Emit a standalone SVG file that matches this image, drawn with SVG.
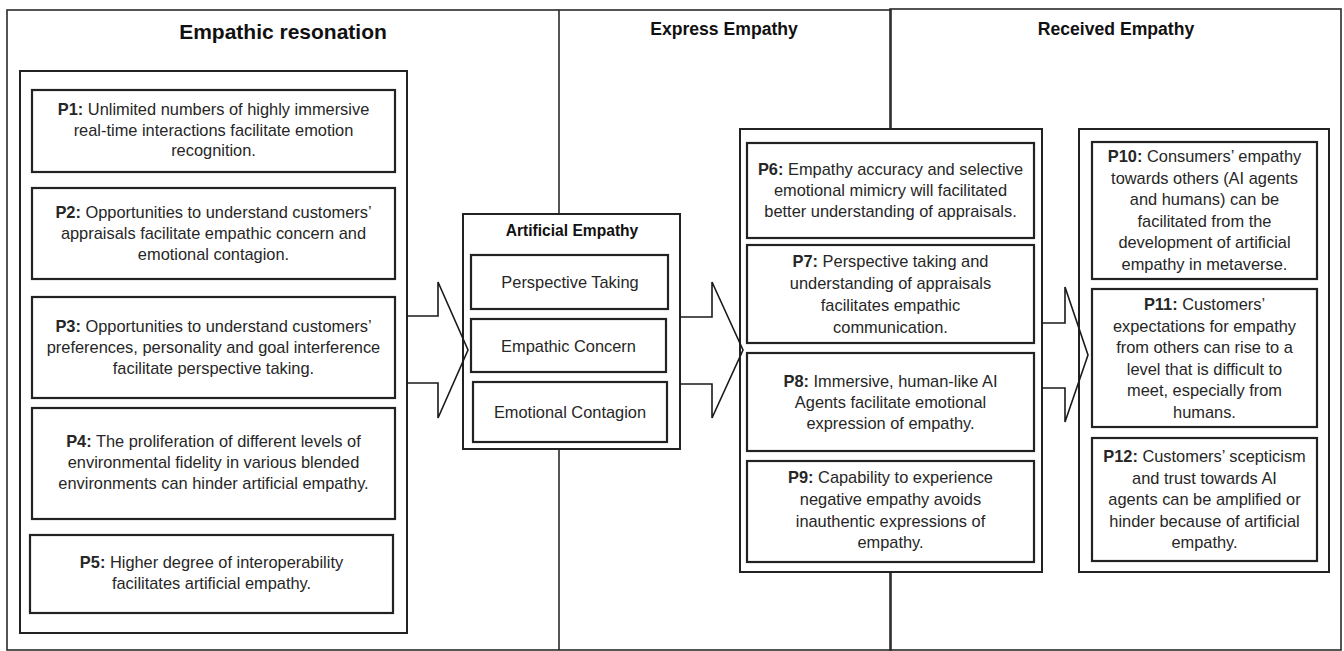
<svg xmlns="http://www.w3.org/2000/svg" width="1344" height="651" viewBox="0 0 1344 651">
<style>
.frame{fill:none;stroke:#2a2a2a;stroke-width:1.6}
.cont{fill:#fff;stroke:#222;stroke-width:2}
.box{fill:#fff;stroke:#222;stroke-width:2.2}
.arrow{fill:none;stroke:#1a1a1a;stroke-width:1.6;stroke-linejoin:miter}
text{font-family:"Liberation Sans",Arial,sans-serif;fill:#262626;text-anchor:middle}
.t{font-size:16.4px}
.b{font-weight:bold}
.title{font-weight:bold;fill:#111}
</style>
<rect width="1344" height="651" fill="#fff"/>
<g id="frames">
<rect class="frame" x="7" y="10" width="884" height="640"/>
<line class="frame" x1="559" y1="10" x2="559" y2="650"/>
<rect class="frame" x="890" y="9" width="451" height="641"/>
<text class="title" x="283" y="39" font-size="21">Empathic resonation</text>
<text class="title" x="724" y="35" font-size="17.6">Express Empathy</text>
<text class="title" x="1116" y="35" font-size="17.6">Received Empathy</text>
</g>
<g id="empathic-resonation">
<rect class="cont" x="20" y="71" width="387" height="562"/>
<g id="p1">
<rect class="box" x="32" y="90" width="363" height="82"/>
<text class="t" x="213.5" y="115"><tspan class="b">P1:</tspan> Unlimited numbers of highly immersive</text>
<text class="t" x="213.5" y="135.5">real-time interactions facilitate emotion</text>
<text class="t" x="213.5" y="156">recognition.</text>
</g>
<g id="p2">
<rect class="box" x="32" y="188" width="363" height="91"/>
<text class="t" x="213.5" y="218"><tspan class="b">P2:</tspan> Opportunities to understand customers’</text>
<text class="t" x="213.5" y="239">appraisals facilitate empathic concern and</text>
<text class="t" x="213.5" y="260">emotional contagion.</text>
</g>
<g id="p3">
<rect class="box" x="32" y="297" width="363" height="101"/>
<text class="t" x="213.5" y="332"><tspan class="b">P3:</tspan> Opportunities to understand customers’</text>
<text class="t" x="213.5" y="353">preferences, personality and goal interference</text>
<text class="t" x="213.5" y="374">facilitate perspective taking.</text>
</g>
<g id="p4">
<rect class="box" x="32" y="408" width="363" height="111"/>
<text class="t" x="213.5" y="447"><tspan class="b">P4:</tspan> The proliferation of different levels of</text>
<text class="t" x="213.5" y="468">environmental fidelity in various blended</text>
<text class="t" x="213.5" y="489">environments can hinder artificial empathy.</text>
</g>
<g id="p5">
<rect class="box" x="30" y="535" width="363" height="78"/>
<text class="t" x="211.5" y="568"><tspan class="b">P5:</tspan> Higher degree of interoperability</text>
<text class="t" x="211.5" y="589">facilitates artificial empathy.</text>
</g>
</g>
<g id="artificial-empathy">
<rect class="cont" x="463" y="214" width="217" height="235"/>
<text class="title" x="572" y="236" font-size="15.6">Artificial Empathy</text>
<g id="perspective-taking">
<rect class="box" x="471" y="255" width="197" height="54"/>
<text class="t" x="570" y="288">Perspective Taking</text>
</g>
<g id="empathic-concern">
<rect class="box" x="471" y="319" width="195" height="53"/>
<text class="t" x="568.5" y="352">Empathic Concern</text>
</g>
<g id="emotional-contagion">
<rect class="box" x="473" y="382" width="194" height="60"/>
<text class="t" x="570" y="418">Emotional Contagion</text>
</g>
</g>
<g id="express-empathy">
<rect class="cont" x="740" y="129" width="302" height="443"/>
<g id="p6">
<rect class="box" x="747" y="143" width="287" height="95"/>
<text class="t" x="890.5" y="175"><tspan class="b">P6:</tspan> Empathy accuracy and selective</text>
<text class="t" x="890.5" y="196">emotional mimicry will facilitated</text>
<text class="t" x="890.5" y="217">better understanding of appraisals.</text>
</g>
<g id="p7">
<rect class="box" x="747" y="245" width="287" height="98"/>
<text class="t" x="890.5" y="267"><tspan class="b">P7:</tspan> Perspective taking and</text>
<text class="t" x="890.5" y="289">understanding of appraisals</text>
<text class="t" x="890.5" y="311">facilitates empathic</text>
<text class="t" x="890.5" y="333">communication.</text>
</g>
<g id="p8">
<rect class="box" x="747" y="353" width="287" height="98"/>
<text class="t" x="890.5" y="387"><tspan class="b">P8:</tspan> Immersive, human-like AI</text>
<text class="t" x="890.5" y="408">Agents facilitate emotional</text>
<text class="t" x="890.5" y="429">expression of empathy.</text>
</g>
<g id="p9">
<rect class="box" x="747" y="461" width="287" height="101"/>
<text class="t" x="890.5" y="483"><tspan class="b">P9:</tspan> Capability to experience</text>
<text class="t" x="890.5" y="505">negative empathy avoids</text>
<text class="t" x="890.5" y="527">inauthentic expressions of</text>
<text class="t" x="890.5" y="548">empathy.</text>
</g>
</g>
<g id="received-empathy">
<rect class="cont" x="1079" y="129" width="250" height="443"/>
<g id="p10">
<rect class="box" x="1092" y="142" width="225" height="137"/>
<text class="t" x="1204.5" y="162"><tspan class="b">P10:</tspan> Consumers’ empathy</text>
<text class="t" x="1204.5" y="183.5">towards others (AI agents</text>
<text class="t" x="1204.5" y="205">and humans) can be</text>
<text class="t" x="1204.5" y="226.5">facilitated from the</text>
<text class="t" x="1204.5" y="248">development of artificial</text>
<text class="t" x="1204.5" y="269.5">empathy in metaverse.</text>
</g>
<g id="p11">
<rect class="box" x="1092" y="289" width="225" height="138"/>
<text class="t" x="1204.5" y="310"><tspan class="b">P11:</tspan> Customers’</text>
<text class="t" x="1204.5" y="331.5">expectations for empathy</text>
<text class="t" x="1204.5" y="353">from others can rise to a</text>
<text class="t" x="1204.5" y="374.5">level that is difficult to</text>
<text class="t" x="1204.5" y="396">meet, especially from</text>
<text class="t" x="1204.5" y="417.5">humans.</text>
</g>
<g id="p12">
<rect class="box" x="1092" y="438" width="225" height="123"/>
<text class="t" x="1204.5" y="462"><tspan class="b">P12:</tspan> Customers’ scepticism</text>
<text class="t" x="1204.5" y="483.5">and trust towards AI</text>
<text class="t" x="1204.5" y="505">agents can be amplified or</text>
<text class="t" x="1204.5" y="526.5">hinder because of artificial</text>
<text class="t" x="1204.5" y="548">empathy.</text>
</g>
</g>
<g id="connectors">
<polyline class="arrow" points="407,316 438,316 438,282 468,350 438,418 438,383 407,383"/>
<polyline class="arrow" points="680,317 712,317 712,282 743,350 712,418 712,384 680,384"/>
<polyline class="arrow" points="1042,323 1065,323 1065,287 1088,355 1065,422 1065,388 1042,388"/>
</g>
</svg>
